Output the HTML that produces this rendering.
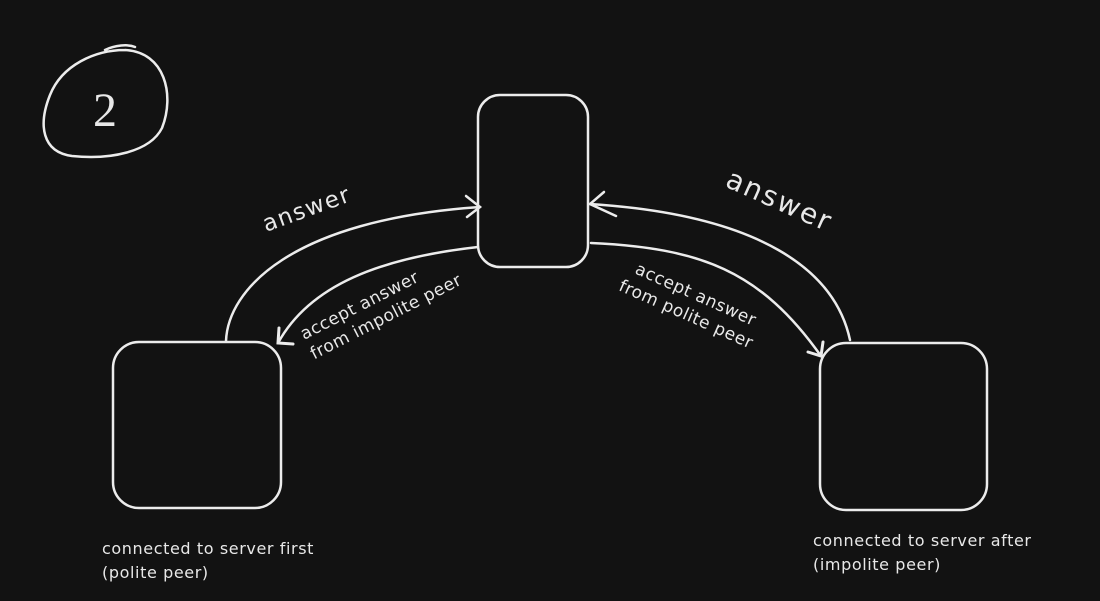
<!DOCTYPE html>
<html><head><style>
html,body{margin:0;padding:0;background:#121212;}
svg{display:block}
text{font-family:"DejaVu Sans","Liberation Sans",sans-serif;fill:#e8e8e8;}
</style></head><body>
<svg width="1100" height="601" viewBox="0 0 1100 601">
<rect width="1100" height="601" fill="#121212"/>
<g fill="none" stroke="#ececec" stroke-width="2.5" stroke-linecap="round">
<path d="M125,50 C165,52 175,95 162,128 C150,152 110,160 72,156 C42,152 38,125 50,95 C62,65 95,50 125,50 M105,50 C115,45 128,44 135,47"/>
<rect x="478" y="95" width="110" height="172" rx="22"/>
<rect x="113" y="342" width="168" height="166" rx="26"/>
<rect x="820" y="343" width="167" height="167" rx="26"/>
<path d="M226,341 C228,290 290,220 480,207"/>
<path d="M466,196 L480,207 L467,217"/>
<path d="M478,247 C380,258 310,285 278,343"/>
<path d="M279,328 L278,343 L293,344" stroke-width="3"/>
<path d="M850,340 C835,270 760,215 590,204"/>
<path d="M604,192 L590,204 L616,216"/>
<path d="M591,243 C700,248 760,270 821,356"/>
<path d="M808,352 L821,356 L823,342" stroke-width="3"/>
</g>
<text x="105" y="126" font-size="48" text-anchor="middle" style="font-family:'Liberation Serif',serif">2</text>
<text x="266" y="232" font-size="23" letter-spacing="1.5" transform="rotate(-20 266 232)">answer</text>
<text x="724" y="186" font-size="28" letter-spacing="2" transform="rotate(24 724 186)">answer</text>
<text font-size="17" letter-spacing="0.5" transform="translate(304,340) rotate(-27)"><tspan x="0" y="0">accept answer</tspan><tspan x="0" y="22">from impolite peer</tspan></text>
<text font-size="17" letter-spacing="0.5" transform="translate(634,273) rotate(24)"><tspan x="0" y="0">accept answer</tspan><tspan x="-8" y="22">from polite peer</tspan></text>
<text font-size="16" letter-spacing="0.6" x="102" y="554">connected to server first</text>
<text font-size="16" letter-spacing="0.6" x="102" y="578">(polite peer)</text>
<text font-size="16" letter-spacing="0.6" x="813" y="546">connected to server after</text>
<text font-size="16" letter-spacing="0.6" x="813" y="570">(impolite peer)</text>
</svg>
</body></html>
